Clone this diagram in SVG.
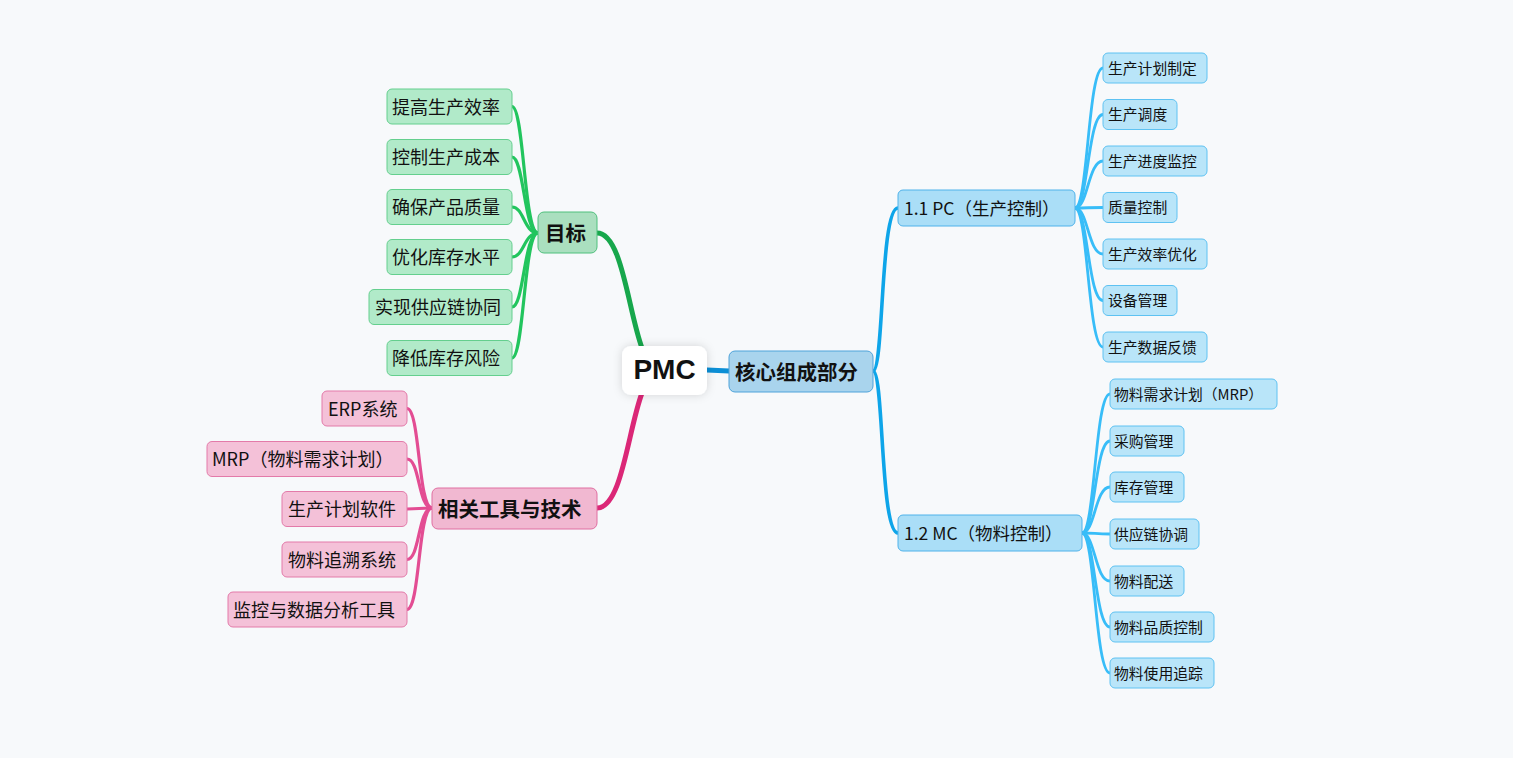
<svg xmlns="http://www.w3.org/2000/svg" width="1513" height="758" viewBox="0 0 1513 758">
<style>
text{font-family:"Noto Sans CJK SC","Noto Sans",sans-serif;fill:#111;dominant-baseline:central;transform:translateY(-1px)}
.c{fill:none;stroke-linecap:round}
.gm{stroke:#17a74c;stroke-width:5}
.gc{stroke:#22c55e;stroke-width:3.2}
.pm{stroke:#db2777;stroke-width:5}
.pc{stroke:#e34d93;stroke-width:3.2}
.bm{stroke:#0c8fd6;stroke-width:5}
.bb{stroke:#0ea5e9;stroke-width:3.6}
.bc{stroke:#38bdf8;stroke-width:2.8}
.gn{fill:#b1eac9;stroke:#64cf8e;stroke-width:1}
.pn{fill:#f4c1d8;stroke:#e37aa9;stroke-width:1}
.bn{fill:#b9e5f9;stroke:#5ec2f2;stroke-width:1}
.t16{font-size:18px}
.t14{font-size:14.8px}
.tb{font-size:20.5px;font-weight:bold}
.t17{font-size:17.5px}
</style>
<defs>
<filter id="sh" x="-30%" y="-30%" width="160%" height="160%">
<feDropShadow dx="0" dy="0" stdDeviation="5" flood-color="#000" flood-opacity="0.15"/>
</filter>
</defs>
<rect width="1513" height="758" fill="#f7f9fb"/>
<g id="connectors">
<path class="c gm" d="M597 233 C622 233 628 310 642 348"/>
<path class="c pm" d="M597 508 C622 508 628 430 642 393"/>
<path class="c bm" d="M707 370 L729 371"/>
<path class="c bb" d="M873 371 C884 371 880 208 898 208"/>
<path class="c bb" d="M873 371 C884 371 880 533 898 533"/>
<g>
<path class="c gc" d="M538 233 C524 233 524 106.5 512 106.5"/>
<path class="c gc" d="M538 233 C524 233 524 157 512 157"/>
<path class="c gc" d="M538 233 C524 233 524 207 512 207"/>
<path class="c gc" d="M538 233 C524 233 524 257 512 257"/>
<path class="c gc" d="M538 233 C524 233 524 307 512 307"/>
<path class="c gc" d="M538 233 C524 233 524 358 512 358"/>
</g>
<g>
<path class="c pc" d="M432 508 C418 508 420 408.5 407 408.5"/>
<path class="c pc" d="M432 508 C418 508 420 459 407 459"/>
<path class="c pc" d="M432 508 C418 508 420 509 407 509"/>
<path class="c pc" d="M432 508 C418 508 420 559.5 407 559.5"/>
<path class="c pc" d="M432 508 C418 508 420 609.5 407 609.5"/>
</g>
<g>
<path class="c bc" d="M1075 208 C1088 208 1088 68 1103 68"/>
<path class="c bc" d="M1075 208 C1088 208 1088 114.5 1103 114.5"/>
<path class="c bc" d="M1075 208 C1088 208 1088 161 1103 161"/>
<path class="c bc" d="M1075 208 C1088 208 1088 207.5 1103 207.5"/>
<path class="c bc" d="M1075 208 C1088 208 1088 254 1103 254"/>
<path class="c bc" d="M1075 208 C1088 208 1088 300.5 1103 300.5"/>
<path class="c bc" d="M1075 208 C1088 208 1088 347 1103 347"/>
</g>
<g>
<path class="c bc" d="M1082 533 C1095 533 1095 394 1110 394"/>
<path class="c bc" d="M1082 533 C1095 533 1095 441 1110 441"/>
<path class="c bc" d="M1082 533 C1095 533 1095 487 1110 487"/>
<path class="c bc" d="M1082 533 C1095 533 1095 534 1110 534"/>
<path class="c bc" d="M1082 533 C1095 533 1095 581 1110 581"/>
<path class="c bc" d="M1082 533 C1095 533 1095 627 1110 627"/>
<path class="c bc" d="M1082 533 C1095 533 1095 673 1110 673"/>
</g>
</g>
<g id="root"><rect x="622" y="346" width="85" height="49" rx="9" fill="#fff" filter="url(#sh)"/><text x="664.5" y="370.5" text-anchor="middle" style="font-family:'Liberation Sans',sans-serif;font-size:28px;font-weight:bold">PMC</text></g>
<g id="n-core"><rect x="729" y="351" width="144" height="41" rx="6" fill="#a9d4ed" stroke="#4ea3da"/><text class="tb" x="735" y="371.5">核心组成部分</text></g>
<g id="n-goal"><rect x="538" y="212" width="59" height="41" rx="6" fill="#aadfbf" stroke="#4fc07c"/><text class="tb" x="545" y="232.5">目标</text></g>
<g id="n-tools"><rect x="432" y="488" width="165" height="41" rx="6" fill="#f1b8d1" stroke="#e06ea1"/><text class="tb" x="438" y="508.5">相关工具与技术</text></g>
<g id="n-pc"><rect x="898" y="190" width="177" height="36" rx="5" fill="#aadef7" stroke="#4fb2ea"/><text class="t17" x="904" y="208">1.1 PC（生产控制）</text></g>
<g id="n-mc"><rect x="898" y="515" width="184" height="36" rx="5" fill="#aadef7" stroke="#4fb2ea"/><text class="t17" x="904" y="533">1.2 MC（物料控制）</text></g>
<g id="g1"><rect class="gn" x="387" y="89" width="125" height="35" rx="5"/><text class="t16" x="392" y="106.5">提高生产效率</text></g>
<g id="g2"><rect class="gn" x="387" y="139.5" width="125" height="35" rx="5"/><text class="t16" x="392" y="157">控制生产成本</text></g>
<g id="g3"><rect class="gn" x="387" y="189.5" width="125" height="35" rx="5"/><text class="t16" x="392" y="207">确保产品质量</text></g>
<g id="g4"><rect class="gn" x="387" y="239.5" width="125" height="35" rx="5"/><text class="t16" x="392" y="257">优化库存水平</text></g>
<g id="g5"><rect class="gn" x="369" y="289.5" width="143" height="35" rx="5"/><text class="t16" x="375" y="307">实现供应链协同</text></g>
<g id="g6"><rect class="gn" x="387" y="340.5" width="125" height="35" rx="5"/><text class="t16" x="392" y="358">降低库存风险</text></g>
<g id="p1"><rect class="pn" x="322" y="391" width="85" height="35" rx="5"/><text class="t16" x="328" y="408.5">ERP系统</text></g>
<g id="p2"><rect class="pn" x="207" y="441.5" width="200" height="35" rx="5"/><text class="t16" x="212" y="459">MRP（物料需求计划）</text></g>
<g id="p3"><rect class="pn" x="282" y="491.5" width="125" height="35" rx="5"/><text class="t16" x="288" y="509">生产计划软件</text></g>
<g id="p4"><rect class="pn" x="282" y="542" width="125" height="35" rx="5"/><text class="t16" x="288" y="559.5">物料追溯系统</text></g>
<g id="p5"><rect class="pn" x="228" y="592" width="179" height="35" rx="5"/><text class="t16" x="233" y="609.5">监控与数据分析工具</text></g>
<g id="c1"><rect class="bn" x="1103" y="53" width="104" height="30" rx="5"/><text class="t14" x="1108" y="68">生产计划制定</text></g>
<g id="c2"><rect class="bn" x="1103" y="99.5" width="74" height="30" rx="5"/><text class="t14" x="1108" y="114.5">生产调度</text></g>
<g id="c3"><rect class="bn" x="1103" y="146" width="104" height="30" rx="5"/><text class="t14" x="1108" y="161">生产进度监控</text></g>
<g id="c4"><rect class="bn" x="1103" y="192.5" width="74" height="30" rx="5"/><text class="t14" x="1108" y="207.5">质量控制</text></g>
<g id="c5"><rect class="bn" x="1103" y="239" width="104" height="30" rx="5"/><text class="t14" x="1108" y="254">生产效率优化</text></g>
<g id="c6"><rect class="bn" x="1103" y="285.5" width="74" height="30" rx="5"/><text class="t14" x="1108" y="300.5">设备管理</text></g>
<g id="c7"><rect class="bn" x="1103" y="332" width="104" height="30" rx="5"/><text class="t14" x="1108" y="347">生产数据反馈</text></g>
<g id="m1"><rect class="bn" x="1110" y="379" width="167" height="30" rx="5"/><text class="t14" x="1114" y="394">物料需求计划（MRP）</text></g>
<g id="m2"><rect class="bn" x="1110" y="426" width="74" height="30" rx="5"/><text class="t14" x="1114" y="441">采购管理</text></g>
<g id="m3"><rect class="bn" x="1110" y="472" width="74" height="30" rx="5"/><text class="t14" x="1114" y="487">库存管理</text></g>
<g id="m4"><rect class="bn" x="1110" y="519" width="89" height="30" rx="5"/><text class="t14" x="1114" y="534">供应链协调</text></g>
<g id="m5"><rect class="bn" x="1110" y="566" width="74" height="30" rx="5"/><text class="t14" x="1114" y="581">物料配送</text></g>
<g id="m6"><rect class="bn" x="1110" y="612" width="104" height="30" rx="5"/><text class="t14" x="1114" y="627">物料品质控制</text></g>
<g id="m7"><rect class="bn" x="1110" y="658" width="104" height="30" rx="5"/><text class="t14" x="1114" y="673">物料使用追踪</text></g>
</svg>
